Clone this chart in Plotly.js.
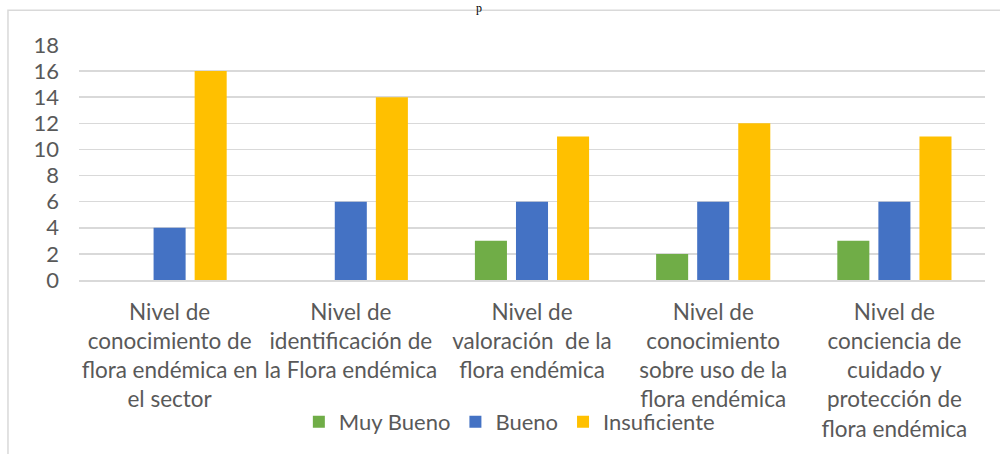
<!DOCTYPE html>
<html>
<head>
<meta charset="utf-8">
<script src="https://cdn.plot.ly/plotly-3.0.1.min.js"></script>
<style>
  html, body { margin: 0; padding: 0; background: #ffffff; }
  #chart { width: 1000px; height: 454px; }
</style>
</head>
<body>
<div id="chart"></div>
<script>
// ---- data ----
const categories = [
  "Nivel de<br>conocimiento de<br>flora endémica en<br>el sector",
  "Nivel de<br>identificación de<br>la Flora endémica",
  "Nivel de<br>valoración\u00a0 de la<br>flora endémica",
  "Nivel de<br>conocimiento<br>sobre uso de la<br>flora endémica",
  "Nivel de<br>conciencia de<br>cuidado y<br>protección de<br>flora endémica"
];
const seriesNames = ["Muy Bueno", "Bueno", "Insuficiente"];
const muyBueno = [0, 0, 3, 2, 3];
const bueno = [4, 6, 6, 6, 6];
const insuficiente = [16, 14, 11, 12, 11];
const yTicks = [0, 2, 4, 6, 8, 10, 12, 14, 16, 18];
const titleText = "p";

// ---- styles ----
const colors = ["#70AD47", "#4472C4", "#FFC000"];
const textColor = "#595959";
const gridColor = "#D9D9D9";
const fontFamily = "Lato, 'Open Sans', sans-serif";

const values = [muyBueno, bueno, insuficiente];
const traces = seriesNames.map((name, i) => ({
  type: "bar",
  name: name,
  x: categories,
  y: values[i],
  marker: { color: colors[i], line: { width: 0 } },
  hoverinfo: "x+y+name"
}));

const layout = {
  width: 1000,
  height: 454,
  margin: { l: 79, r: 15, t: 45, b: 173 },
  paper_bgcolor: "#ffffff",
  plot_bgcolor: "#ffffff",
  barmode: "group",
  bargap: 0.32,
  bargroupgap: 0.22,
  font: { family: fontFamily, size: 22, color: textColor },
  xaxis: {
    type: "category",
    showgrid: false,
    showline: true,
    linecolor: gridColor,
    linewidth: 1.5,
    ticks: "",
    tickfont: { family: fontFamily, size: 22.5, color: textColor },
    ticklabelstandoff: 11,
    tickangle: 0,
    automargin: false
  },
  yaxis: {
    range: [0, 18],
    tickvals: yTicks,
    ticktext: yTicks.map(String),
    showgrid: true,
    gridcolor: gridColor,
    gridwidth: 1.5,
    zeroline: false,
    showline: false,
    ticks: "",
    tickfont: { family: fontFamily, size: 22, color: textColor },
    ticklabelstandoff: 19,
    automargin: false
  },
  showlegend: true,
  legend: {
    orientation: "h",
    x: 0.475,
    xanchor: "center",
    y: -0.597,
    yanchor: "middle",
    font: { family: fontFamily, size: 22, color: textColor },
    bgcolor: "rgba(0,0,0,0)",
    traceorder: "normal"
  },
  shapes: [{
    type: "rect",
    xref: "paper", yref: "paper",
    x0: -0.0784, x1: 1.5, y0: -1.5, y1: 1.148,
    line: { color: gridColor, width: 1.5 },
    fillcolor: "rgba(0,0,0,0)",
    layer: "below"
  }],
  annotations: [{
    text: titleText,
    xref: "paper", yref: "paper",
    x: (479 - 79) / 906, y: 281 / 236,
    xanchor: "center", yanchor: "top",
    borderpad: 0,
    showarrow: false,
    font: { family: "'Liberation Serif', serif", size: 12, color: "#000000" }
  }]
};

Plotly.newPlot("chart", traces, layout, { displayModeBar: false, staticPlot: true });
</script>
</body>
</html>
